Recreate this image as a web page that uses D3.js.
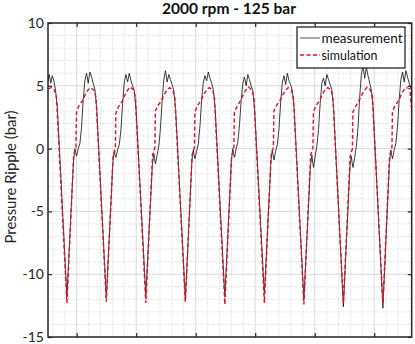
<!DOCTYPE html>
<html><head><meta charset="utf-8">
<script src="https://cdn.jsdelivr.net/npm/d3@7"></script>
<style>
html,body{margin:0;padding:0;background:#fff;}
svg{display:block;}
text{font-family:Lato,"Open Sans","DejaVu Sans",sans-serif;}
</style></head>
<body>
<svg id="chart" width="415" height="344"></svg>
<script>
// ---- data (time in ms, pressure ripple in bar) ----
const title = "2000 rpm - 125 bar";
const yLabel = "Pressure Ripple (bar)";
const seriesNames = ["measurement", "simulation"];
const yTicks = [-15, -10, -5, 0, 5, 10];
const xTicks = [0, 5, 10, 15, 20, 25];
const xDomain = [-2.41, 28.15];
const yDomain = [-15, 10];

const simTime = [
  -2.41, -2.14, -1.86, -1.70,
  -0.82, -0.25, -0.06, -0.02, 0.18, 0.48, 0.73, 0.93, 1.18, 1.46, 1.62,
  2.49, 3.06, 3.25, 3.29, 3.49, 3.79, 4.04, 4.24, 4.49, 4.77, 4.93,
  5.81, 6.38, 6.57, 6.61, 6.81, 7.11, 7.36, 7.56, 7.81, 8.09, 8.25,
  9.13, 9.70, 9.89, 9.93, 10.13, 10.43, 10.68, 10.88, 11.13, 11.41, 11.57,
  12.45, 13.02, 13.21, 13.25, 13.45, 13.75, 14.00, 14.20, 14.45, 14.73, 14.89,
  15.77, 16.34, 16.53, 16.57, 16.77, 17.07, 17.32, 17.52, 17.77, 18.05, 18.21,
  19.09, 19.66, 19.85, 19.89, 20.09, 20.39, 20.64, 20.84, 21.09, 21.37, 21.53,
  22.41, 22.98, 23.17, 23.21, 23.41, 23.71, 23.96, 24.16, 24.41, 24.69, 24.85,
  25.73, 26.30, 26.49, 26.53, 26.73, 27.03, 27.28, 27.48, 27.73, 28.00, 28.12
];
const simValue = [
  4.75, 4.85, 4.65, 4.1,
  -12.3, -0.5, 0.1, 2.9, 3.4, 3.8, 4.3, 4.65, 4.85, 4.65, 4.1,
  -12.2, -0.6, 0.0, 2.8, 3.3, 3.7, 4.25, 4.6, 4.9, 4.7, 4.1,
  -12.3, -0.5, 0.1, 3.0, 3.4, 3.8, 4.3, 4.65, 4.85, 4.65, 4.0,
  -12.2, -0.5, 0.1, 2.9, 3.4, 3.8, 4.3, 4.6, 4.85, 4.7, 4.1,
  -12.4, -0.6, 0.0, 2.9, 3.3, 3.8, 4.3, 4.65, 4.9, 4.65, 4.1,
  -12.3, -0.5, 0.1, 3.0, 3.4, 3.8, 4.3, 4.6, 4.85, 4.65, 4.1,
  -12.4, -0.5, 0.1, 2.9, 3.4, 3.8, 4.3, 4.65, 4.85, 4.7, 4.0,
  -12.3, -0.6, 0.0, 2.9, 3.3, 3.8, 4.3, 4.6, 4.9, 4.65, 4.1,
  -12.3, -0.5, 0.1, 2.9, 3.4, 3.8, 4.3, 4.65, 4.85, 4.75, 3.3
];

const measTime = [
  -2.41, -2.30, -2.18, -2.05, -1.92, -1.78, -1.62,
  -0.82, -0.27, -0.15, -0.09, -0.01, 0.13, 0.27, 0.41, 0.55, 0.69, 0.83, 0.97, 1.11, 1.25, 1.39, 1.53, 1.68,
  2.49, 3.04, 3.16, 3.22, 3.30, 3.44, 3.58, 3.72, 3.86, 4.00, 4.14, 4.28, 4.42, 4.56, 4.70, 4.84, 4.99,
  5.81, 6.36, 6.48, 6.54, 6.62, 6.76, 6.90, 7.04, 7.18, 7.32, 7.46, 7.60, 7.74, 7.88, 8.02, 8.16, 8.31,
  9.13, 9.68, 9.80, 9.86, 9.94, 10.08, 10.22, 10.36, 10.50, 10.64, 10.78, 10.92, 11.06, 11.20, 11.34, 11.48, 11.63,
  12.45, 13.00, 13.12, 13.18, 13.26, 13.40, 13.54, 13.68, 13.82, 13.96, 14.10, 14.24, 14.38, 14.52, 14.66, 14.80, 14.95,
  15.77, 16.32, 16.44, 16.50, 16.58, 16.72, 16.86, 17.00, 17.14, 17.28, 17.42, 17.56, 17.70, 17.84, 17.98, 18.12, 18.27,
  19.09, 19.64, 19.76, 19.82, 19.90, 20.04, 20.18, 20.32, 20.46, 20.60, 20.74, 20.88, 21.02, 21.16, 21.30, 21.44, 21.59,
  22.41, 22.96, 23.08, 23.14, 23.22, 23.36, 23.50, 23.64, 23.78, 23.92, 24.06, 24.20, 24.34, 24.48, 24.62, 24.76, 24.91,
  25.73, 26.28, 26.40, 26.46, 26.54, 26.68, 26.82, 26.96, 27.10, 27.24, 27.38, 27.52, 27.66, 27.80, 27.94, 28.08, 28.15
];
const measValue = [
  5.3, 5.9, 5.2, 5.8, 5.4, 4.7, 3.2,
  -11.8, -1.0, 0.0, -0.3, -0.6, 0.0, 0.4, 1.7, 3.9, 5.4, 6.0, 5.2, 6.1, 5.7, 5.2, 4.7, 3.2,
  -11.9, -1.1, -0.1, -0.5, -0.7, -0.1, 0.3, 1.5, 3.6, 5.3, 5.9, 5.3, 6.0, 5.4, 5.0, 4.6, 3.1,
  -11.7, -1.3, -0.4, -0.8, -1.2, -0.5, 0.2, 1.6, 3.8, 5.5, 6.2, 5.3, 5.9, 5.5, 5.1, 4.6, 3.2,
  -12.0, -1.0, -0.1, -0.5, -0.8, -0.2, 0.4, 1.8, 3.9, 5.3, 5.8, 5.4, 6.1, 5.6, 5.2, 4.7, 3.3,
  -11.8, -0.9, 0.0, -0.4, -0.7, 0.0, 0.5, 1.9, 3.8, 5.2, 5.7, 5.0, 5.9, 5.5, 5.0, 4.6, 3.1,
  -11.6, -1.0, -0.1, -0.5, -0.9, -0.2, 0.3, 1.6, 3.7, 5.3, 5.8, 5.1, 6.0, 5.4, 5.1, 4.6, 3.2,
  -12.0, -1.4, -0.5, -1.0, -1.5, -0.6, 0.2, 1.5, 3.6, 5.2, 5.6, 5.0, 5.9, 5.5, 5.1, 4.7, 3.2,
  -12.6, -1.4, -0.6, -1.1, -1.5, -0.7, 0.2, 1.7, 4.1, 5.9, 6.6, 5.6, 6.5, 5.8, 5.2, 4.7, 3.2,
  -12.7, -1.1, -0.1, -0.5, -0.8, -0.1, 0.4, 1.8, 3.9, 5.5, 6.1, 5.3, 6.2, 5.7, 5.2, 4.8, 4.6
];

// ---- layout ----
const svg = d3.select("#chart");
const L = 48, R = 411.7, T = 23, B = 337;
const x = d3.scaleLinear().domain(xDomain).range([L, R]);
const y = d3.scaleLinear().domain(yDomain).range([B, T]);
const ink = "#262626";

// grid: minor (dotted) then major (solid)
const g = svg.append("g");
const minorX = d3.range(-2, 29, 1).filter(v => v % 5 !== 0 && v >= xDomain[0] && v <= xDomain[1]);
const minorY = d3.range(-14, 10, 1).filter(v => v % 5 !== 0);
g.selectAll(".mx").data(minorX).join("line")
  .attr("x1", d => x(d)).attr("x2", d => x(d)).attr("y1", T).attr("y2", B)
  .attr("stroke", "#bdbdbd").attr("stroke-width", 0.6).attr("stroke-dasharray", "1,1.5");
g.selectAll(".my").data(minorY).join("line")
  .attr("y1", d => y(d)).attr("y2", d => y(d)).attr("x1", L).attr("x2", R)
  .attr("stroke", "#bdbdbd").attr("stroke-width", 0.6).attr("stroke-dasharray", "1,1.5");
g.selectAll(".Mx").data(xTicks).join("line")
  .attr("x1", d => x(d)).attr("x2", d => x(d)).attr("y1", T).attr("y2", B)
  .attr("stroke", "#d0d0d0").attr("stroke-width", 0.8);
g.selectAll(".My").data(yTicks).join("line")
  .attr("y1", d => y(d)).attr("y2", d => y(d)).attr("x1", L).attr("x2", R)
  .attr("stroke", "#d0d0d0").attr("stroke-width", 0.8);

// series
const measData = measTime.map((t, i) => [t, measValue[i]]);
const simData = simTime.map((t, i) => [t, simValue[i]]);
const line = d3.line().x(d => x(d[0])).y(d => y(d[1]));
svg.append("clipPath").attr("id", "clip").append("rect")
  .attr("x", L).attr("y", T).attr("width", R - L).attr("height", B - T);
svg.append("path").datum(measData).attr("d", line).attr("clip-path", "url(#clip)")
  .attr("fill", "none").attr("stroke", "#1a1a1a").attr("stroke-width", 0.85).attr("stroke-linejoin", "round");
svg.append("path").datum(simData).attr("d", line).attr("clip-path", "url(#clip)")
  .attr("fill", "none").attr("stroke", "#e0102a").attr("stroke-width", 1.4).attr("stroke-dasharray", "4,2.5");

// axes
const ax = (gen, tr) => {
  const a = svg.append("g").attr("transform", tr).call(gen);
  a.select(".domain").remove();
  a.selectAll(".tick line").attr("stroke", ink).attr("stroke-width", 1.2);
  a.selectAll("text").attr("fill", ink).style("font-size", "14px");
  return a;
};
ax(d3.axisLeft(y).tickValues(yTicks).tickSize(-4).tickPadding(4).tickFormat(d => String(d)), `translate(${L},0)`);
ax(d3.axisRight(y).tickValues(yTicks).tickSize(-4).tickFormat(""), `translate(${R},0)`);
ax(d3.axisBottom(x).tickValues(xTicks).tickSize(-4).tickFormat(""), `translate(0,${B})`);
ax(d3.axisTop(x).tickValues(xTicks).tickSize(-4).tickFormat(""), `translate(0,${T})`);

svg.append("rect").attr("x", L).attr("y", T).attr("width", R - L).attr("height", B - T)
  .attr("fill", "none").attr("stroke", ink).attr("stroke-width", 1.5);

// title & label
svg.append("text").attr("x", 229).attr("y", 14).attr("text-anchor", "middle")
  .attr("textLength", 134).attr("lengthAdjust", "spacingAndGlyphs")
  .style("font-size", "15px").style("font-weight", "bold").attr("fill", "#111").text(title);
svg.append("text").attr("transform", `translate(16,177) rotate(-90)`)
  .attr("text-anchor", "middle").attr("textLength", 133).attr("lengthAdjust", "spacingAndGlyphs")
  .style("font-size", "15px").attr("fill", ink).text(yLabel);

// legend
const lg = svg.append("g");
lg.append("rect").attr("x", 297).attr("y", 27).attr("width", 108).attr("height", 41)
  .attr("fill", "#fff").attr("stroke", ink).attr("stroke-width", 1.3);
const rows = [
  {name: seriesNames[0], color: "#555", dash: null, w: 1},
  {name: seriesNames[1], color: "#e0102a", dash: "4,2.5", w: 1.4}
];
rows.forEach((r, i) => {
  const yy = 38 + i * 17;
  lg.append("line").attr("x1", 300).attr("x2", 320).attr("y1", yy).attr("y2", yy)
    .attr("stroke", r.color).attr("stroke-width", r.w).attr("stroke-dasharray", r.dash);
  lg.append("text").attr("x", 321.5).attr("y", yy).attr("dy", "0.35em")
    .attr("textLength", i === 0 ? 81 : 56).attr("lengthAdjust", "spacingAndGlyphs")
    .style("font-size", "13px").attr("fill", "#111").text(r.name);
});
</script>
</body></html>
